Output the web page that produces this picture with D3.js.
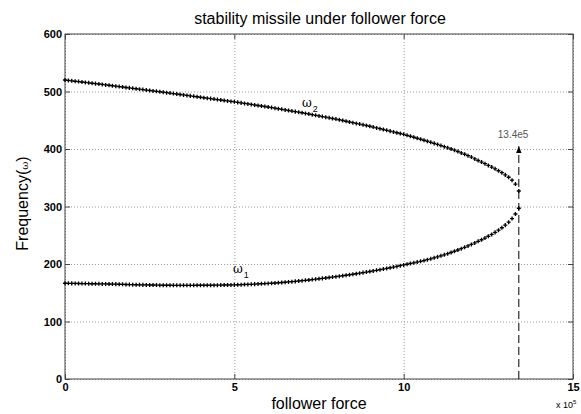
<!DOCTYPE html>
<html>
<head>
<meta charset="utf-8">
<script src="https://cdn.jsdelivr.net/npm/d3@7"></script>
<style>
  body { margin: 0; background: #fff; }
  svg { display: block; font-family: Arial, "Liberation Sans", sans-serif; }
  .tick text { font-size: 11px; font-weight: bold; fill: #000; }
  .grid line { stroke: #9a9a9a; stroke-dasharray: 1,2; }
  .grid .domain { display: none; }
</style>
</head>
<body>
<svg width="581" height="414"></svg>
<script>
// 横軸: follower force (x 10^5)
const force = [
  0.0,0.1,0.2,0.3,0.4,0.5,0.6,0.7,0.8,0.9,
  1.0,1.1,1.2,1.3,1.4,1.5,1.6,1.7,1.8,1.9,
  2.0,2.1,2.2,2.3,2.4,2.5,2.6,2.7,2.8,2.9,
  3.0,3.1,3.2,3.3,3.4,3.5,3.6,3.7,3.8,3.9,
  4.0,4.1,4.2,4.3,4.4,4.5,4.6,4.7,4.8,4.9,
  5.0,5.1,5.2,5.3,5.4,5.5,5.6,5.7,5.8,5.9,
  6.0,6.1,6.2,6.3,6.4,6.5,6.6,6.7,6.8,6.9,
  7.0,7.1,7.2,7.3,7.4,7.5,7.6,7.7,7.8,7.9,
  8.0,8.1,8.2,8.3,8.4,8.5,8.6,8.7,8.8,8.9,
  9.0,9.1,9.2,9.3,9.4,9.5,9.6,9.7,9.8,9.9,
  10.0,10.1,10.2,10.3,10.4,10.5,10.6,10.7,10.8,10.9,
  11.0,11.1,11.2,11.3,11.4,11.5,11.6,11.7,11.8,11.9,
  12.0,12.1,12.2,12.3,12.4,12.5,12.6,12.7,12.8,12.9,
  13.0,13.1,13.2,13.3,13.4
];

// ω1 (下の枝)
const omega1 = [
  166.5,166.4,166.3,166.2,166.1,166.0,165.9,165.8,165.7,165.6,
  165.5,165.4,165.3,165.2,165.1,165.0,164.8,164.6,164.4,164.2,
  164.0,163.9,163.8,163.7,163.6,163.5,163.4,163.3,163.2,163.1,
  163.0,163.0,162.9,162.9,162.9,162.9,162.9,162.9,162.9,163.0,
  163.0,163.0,163.1,163.1,163.2,163.2,163.3,163.4,163.5,163.6,
  163.7,163.9,164.1,164.3,164.5,164.7,165.0,165.3,165.6,165.9,
  166.2,166.6,167.0,167.4,167.8,168.3,168.8,169.3,169.8,170.4,
  171.0,171.6,172.2,172.9,173.6,174.3,175.0,175.7,176.5,177.2,
  178.0,178.8,179.6,180.5,181.3,182.2,183.1,184.0,185.0,186.0,
  187.0,188.0,189.0,190.1,191.2,192.3,193.4,194.6,195.8,197.1,
  198.4,199.6,200.8,202.0,203.3,204.6,206.0,207.5,209.0,210.7,
  212.4,214.2,216.0,218.0,220.0,222.2,224.4,226.7,229.0,231.5,
  234.0,236.7,239.4,242.2,245.1,248.2,251.5,255.0,258.8,263.0,
  267.6,272.8,279.0,287.0,297.0
];

// ω2 (上の枝)
const omega2 = [
  520.0,519.3,518.6,517.9,517.2,516.5,515.8,515.1,514.4,513.7,
  513.0,512.3,511.5,510.8,510.0,509.3,508.5,507.8,507.0,506.3,
  505.5,504.8,504.0,503.3,502.5,501.8,501.0,500.3,499.5,498.8,
  498.0,497.2,496.4,495.6,494.8,494.0,493.2,492.4,491.6,490.8,
  490.0,489.2,488.4,487.6,486.8,486.0,485.2,484.4,483.6,482.8,
  482.0,481.1,480.2,479.3,478.4,477.5,476.6,475.7,474.8,473.9,
  473.0,472.0,471.0,470.0,469.0,468.0,467.0,466.0,465.0,464.0,
  463.0,461.9,460.8,459.7,458.6,457.5,456.4,455.3,454.2,453.1,
  452.0,450.8,449.5,448.3,447.0,445.8,444.5,443.3,442.0,440.8,
  439.5,438.1,436.7,435.3,433.9,432.5,431.1,429.7,428.3,426.9,
  425.5,423.8,422.1,420.4,418.7,417.0,415.2,413.4,411.6,409.8,
  408.0,406.0,404.0,402.0,400.0,398.0,395.6,393.2,390.8,388.4,
  386.0,382.8,380.0,377.3,374.5,371.5,368.5,365.5,362.2,358.8,
  355.0,350.8,345.8,339.0,327.0
];

const xTicks = [0, 5, 10, 15];
const yTicks = [0, 100, 200, 300, 400, 500, 600];
const critForce = 13.4;
const arrowTop = 405;

const svg = d3.select("svg");
const mLeft = 65, mRight = 573, mTop = 34, mBottom = 379;

const x = d3.scaleLinear().domain([0, 15]).range([mLeft, mRight]);
const y = d3.scaleLinear().domain([0, 600]).range([mBottom, mTop]);

// グリッド
svg.append("g").attr("class", "grid")
  .attr("transform", `translate(0,${mBottom})`)
  .call(d3.axisBottom(x).tickValues(xTicks).tickSize(-(mBottom - mTop)).tickFormat(""));
svg.append("g").attr("class", "grid")
  .attr("transform", `translate(${mLeft},0)`)
  .call(d3.axisLeft(y).tickValues(yTicks).tickSize(-(mRight - mLeft)).tickFormat(""));

// 軸 (目盛りは内向き)
const axisColor = "#444";
function styleAxis(g) {
  g.select(".domain").remove();
  g.selectAll(".tick line").attr("stroke", axisColor);
}
svg.append("g").attr("transform", `translate(0,${mBottom})`)
  .call(d3.axisBottom(x).tickValues(xTicks).tickSizeInner(-5).tickSizeOuter(0).tickPadding(4))
  .call(styleAxis);
svg.append("g").attr("transform", `translate(0,${mTop})`)
  .call(d3.axisTop(x).tickValues(xTicks).tickSizeInner(-5).tickSizeOuter(0).tickFormat(""))
  .call(styleAxis);
svg.append("g").attr("transform", `translate(${mLeft},0)`)
  .call(d3.axisLeft(y).tickValues(yTicks).tickSizeInner(-5).tickSizeOuter(0).tickPadding(3))
  .call(styleAxis);
svg.append("g").attr("transform", `translate(${mRight},0)`)
  .call(d3.axisRight(y).tickValues(yTicks).tickSizeInner(-5).tickSizeOuter(0).tickFormat(""))
  .call(styleAxis);

svg.append("rect")
  .attr("x", mLeft).attr("y", mTop)
  .attr("width", mRight - mLeft).attr("height", mBottom - mTop)
  .attr("fill", "none").attr("stroke", axisColor).attr("stroke-width", 1);

// データ点
const cross = d3.symbol().type(d3.symbolCross).size(9);
function drawBranch(values) {
  svg.append("g").selectAll("path")
    .data(force.map((f, i) => [f, values[i]]))
    .enter().append("path")
    .attr("d", cross)
    .attr("transform", d => `translate(${x(d[0])},${y(d[1])})`)
    .attr("fill", "#000");
}
drawBranch(omega1);
drawBranch(omega2);

// 臨界荷重の矢印
svg.append("defs").append("marker")
  .attr("id", "arrow")
  .attr("viewBox", "0 -5 10 10")
  .attr("refX", 10).attr("refY", 0)
  .attr("markerWidth", 7).attr("markerHeight", 7)
  .attr("markerUnits", "userSpaceOnUse")
  .attr("orient", "auto")
  .append("path").attr("d", "M0,-4L10,0L0,4Z").attr("fill", "#000");

svg.append("line")
  .attr("x1", x(critForce)).attr("x2", x(critForce))
  .attr("y1", y(0)).attr("y2", y(arrowTop))
  .attr("stroke", "#000").attr("stroke-width", 1)
  .attr("stroke-dasharray", "8,4")
  .attr("marker-end", "url(#arrow)");

svg.append("text")
  .attr("x", x(critForce) - 21).attr("y", y(arrowTop) - 8)
  .attr("font-size", 10).attr("fill", "#555")
  .text("13.4e5");

// ω ラベル
function omegaLabel(fx, fy, sub) {
  const t = svg.append("text")
    .attr("x", x(fx)).attr("y", y(fy))
    .attr("font-family", "'DejaVu Serif', serif")
    .attr("font-size", 12);
  t.append("tspan").text("ω");
  t.append("tspan").attr("dx", 1).attr("dy", 5).attr("font-size", 9)
    .attr("font-family", "Arial, sans-serif").text(sub);
}
omegaLabel(7.0, 473, "2");
omegaLabel(4.96, 184, "1");

// タイトル・軸ラベル
svg.append("text")
  .attr("x", (mLeft + mRight) / 2 + 1).attr("y", 24)
  .attr("text-anchor", "middle").attr("font-size", 16)
  .text("stability missile under follower force");

svg.append("text")
  .attr("x", (mLeft + mRight) / 2).attr("y", 409)
  .attr("text-anchor", "middle").attr("font-size", 16)
  .text("follower force");

const yl = svg.append("text")
  .attr("transform", `translate(28,${(mTop + mBottom) / 2 - 3}) rotate(-90)`)
  .attr("text-anchor", "middle").attr("font-size", 16);
yl.append("tspan").text("Frequency(");
yl.append("tspan").attr("font-size", 10).attr("font-family", "'DejaVu Serif', serif").text("ω");
yl.append("tspan").text(")");

const ex = svg.append("text")
  .attr("x", 556).attr("y", 408)
  .attr("font-size", 9);
ex.append("tspan").text("x 10");
ex.append("tspan").attr("dy", -4).attr("font-size", 6).text("5");
</script>
</body>
</html>
